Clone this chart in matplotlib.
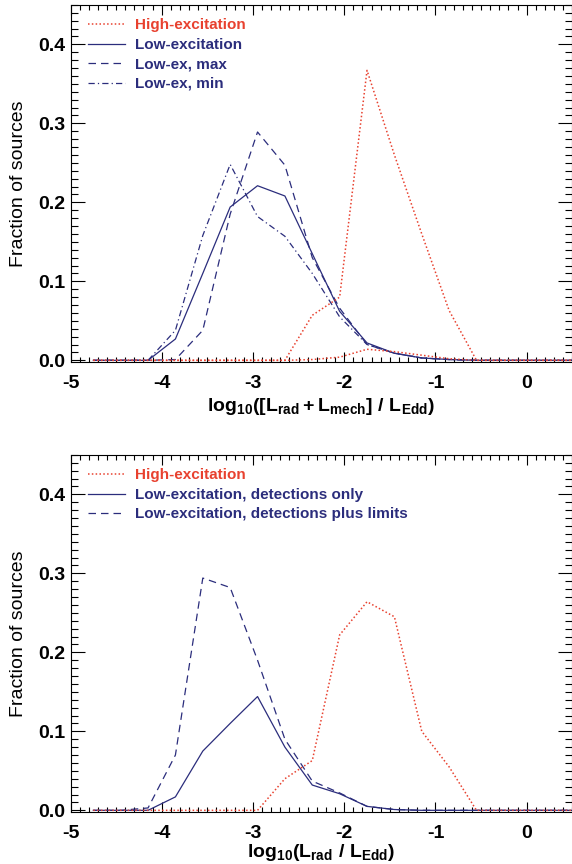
import matplotlib
matplotlib.use('Agg')
import matplotlib.pyplot as plt
from matplotlib.ticker import MultipleLocator, FormatStrFormatter

plt.rcParams['font.family'] = ['Liberation Sans', 'DejaVu Sans']
plt.rcParams['font.weight'] = 'bold'
plt.rcParams['axes.unicode_minus'] = False
plt.rcParams['mathtext.fontset'] = 'custom'
plt.rcParams['mathtext.rm'] = 'Liberation Sans:bold'
plt.rcParams['mathtext.it'] = 'Liberation Sans:bold'
plt.rcParams['mathtext.bf'] = 'Liberation Sans:bold'

## data ##
bin_centers = [-4.75, -4.45, -4.15, -3.85, -3.55, -3.25, -2.95, -2.65, -2.35, -2.05,
               -1.75, -1.45, -1.15, -0.85, -0.55, -0.25, 0.05, 0.35, 0.65]

# top panel: radiative + mechanical
top_high     = [0, 0, 0, 0, 0, 0, 0, 0, 0.057, 0.080, 0.367, 0.260, 0.160, 0.063, 0, 0, 0, 0, 0]
top_high_alt = [0, 0, 0, 0, 0, 0, 0, 0, 0.001, 0.004, 0.014, 0.011, 0.0065, 0.002, 0, 0, 0, 0, 0]
top_low      = [0, 0, 0, 0.027, 0.110, 0.194, 0.221, 0.208, 0.135, 0.062, 0.022, 0.009, 0.003, 0.001, 0, 0, 0, 0, 0]
top_low_max  = [0, 0, 0, 0.001, 0.038, 0.185, 0.289, 0.247, 0.130, 0.066, 0.020, 0.009, 0.003, 0.001, 0, 0, 0, 0, 0]
top_low_min  = [0, 0, 0, 0.038, 0.158, 0.248, 0.182, 0.157, 0.110, 0.055, 0.020, 0.009, 0.003, 0.001, 0, 0, 0, 0, 0]

# bottom panel: radiative only
bot_high    = [0, 0, 0, 0, 0, 0, 0, 0.040, 0.063, 0.222, 0.264, 0.245, 0.100, 0.055, 0, 0, 0, 0, 0]
bot_low_det = [0, 0, 0, 0.017, 0.075, 0.110, 0.144, 0.080, 0.032, 0.021, 0.005, 0.001, 0, 0, 0, 0, 0, 0, 0]
bot_low_lim = [0, 0, 0.003, 0.070, 0.294, 0.282, 0.190, 0.090, 0.037, 0.022, 0.005, 0.001, 0, 0, 0, 0, 0, 0, 0]

RED = '#e8412f'
NAVY = '#2b2d7c'
DOT = (0, (1, 1.5))
DASH = (0, (6, 4))
DASHDOT = (0, (5, 2.5, 1, 2.5))

fig = plt.figure(figsize=(5.72, 8.64), dpi=100)
ax1 = fig.add_axes([70.5/572, 1 - 362.3/864, 501.8/572, 357.5/864])
ax2 = fig.add_axes([70.5/572, 1 - 812.3/864, 501.8/572, 357.5/864])


def style(ax, xlabel, lpad):
    ax.set_xlim(-5, 0.5)
    ax.set_ylim(-0.0025, 0.45)
    ax.xaxis.set_major_locator(MultipleLocator(1))
    ax.xaxis.set_minor_locator(MultipleLocator(0.1))
    ax.yaxis.set_major_locator(MultipleLocator(0.1))
    ax.yaxis.set_minor_locator(MultipleLocator(0.01))
    ax.xaxis.set_major_formatter(FormatStrFormatter('%d'))
    ax.yaxis.set_major_formatter(FormatStrFormatter('%.1f'))
    ax.tick_params(which='both', direction='in', top=True, right=True, labelsize=14, width=0.8)
    ax.tick_params(axis='x', which='major', length=7, pad=9)
    ax.tick_params(axis='x', which='minor', length=3.5)
    ax.tick_params(axis='y', which='major', length=10, pad=4)
    ax.tick_params(axis='y', which='minor', length=5)
    for s in ax.spines.values():
        s.set_linewidth(0.8)
    ax.set_xlabel(xlabel, fontsize=14, labelpad=lpad)
    ax.set_ylabel('Fraction of sources', fontsize=14, labelpad=8)


def add_legend(ax, handles, labels, colors):
    leg = ax.legend(handles, labels, loc='upper left', bbox_to_anchor=(0.035, 0.962),
                    frameon=False, fontsize=11, borderaxespad=0, borderpad=0,
                    handlelength=2.4, handletextpad=0.65, labelspacing=0.36)
    for t, c in zip(leg.get_texts(), colors):
        t.set_color(c)


# top #
l1, = ax1.plot(bin_centers, top_low, color=NAVY, lw=0.9, ls='-')
l2, = ax1.plot(bin_centers, top_low_max, color=NAVY, lw=0.9, ls=DASH)
l3, = ax1.plot(bin_centers, top_low_min, color=NAVY, lw=0.9, ls=DASHDOT)
ax1.plot(bin_centers, top_high_alt, color=RED, lw=1.1, ls=DOT)
h1, = ax1.plot(bin_centers, top_high, color=RED, lw=1.1, ls=DOT)
style(ax1, r'$\mathbf{log_{10}([L_{rad}+L_{mech}]\ /\ L_{Edd})}$', 3)
add_legend(ax1, [h1, l1, l2, l3], ['High-excitation', 'Low-excitation', 'Low-ex, max', 'Low-ex, min'],
           [RED, NAVY, NAVY, NAVY])

# bottom #
m1, = ax2.plot(bin_centers, bot_low_det, color=NAVY, lw=0.9, ls='-')
m2, = ax2.plot(bin_centers, bot_low_lim, color=NAVY, lw=0.9, ls=DASH)
g1, = ax2.plot(bin_centers, bot_high, color=RED, lw=1.1, ls=DOT)
style(ax2, r'$\mathbf{log_{10}(L_{rad}\ /\ L_{Edd})}$', 0.5)
add_legend(ax2, [g1, m1, m2], ['High-excitation', 'Low-excitation, detections only',
                               'Low-excitation, detections plus limits'], [RED, NAVY, NAVY])

fig.savefig('out.png', dpi=100)
